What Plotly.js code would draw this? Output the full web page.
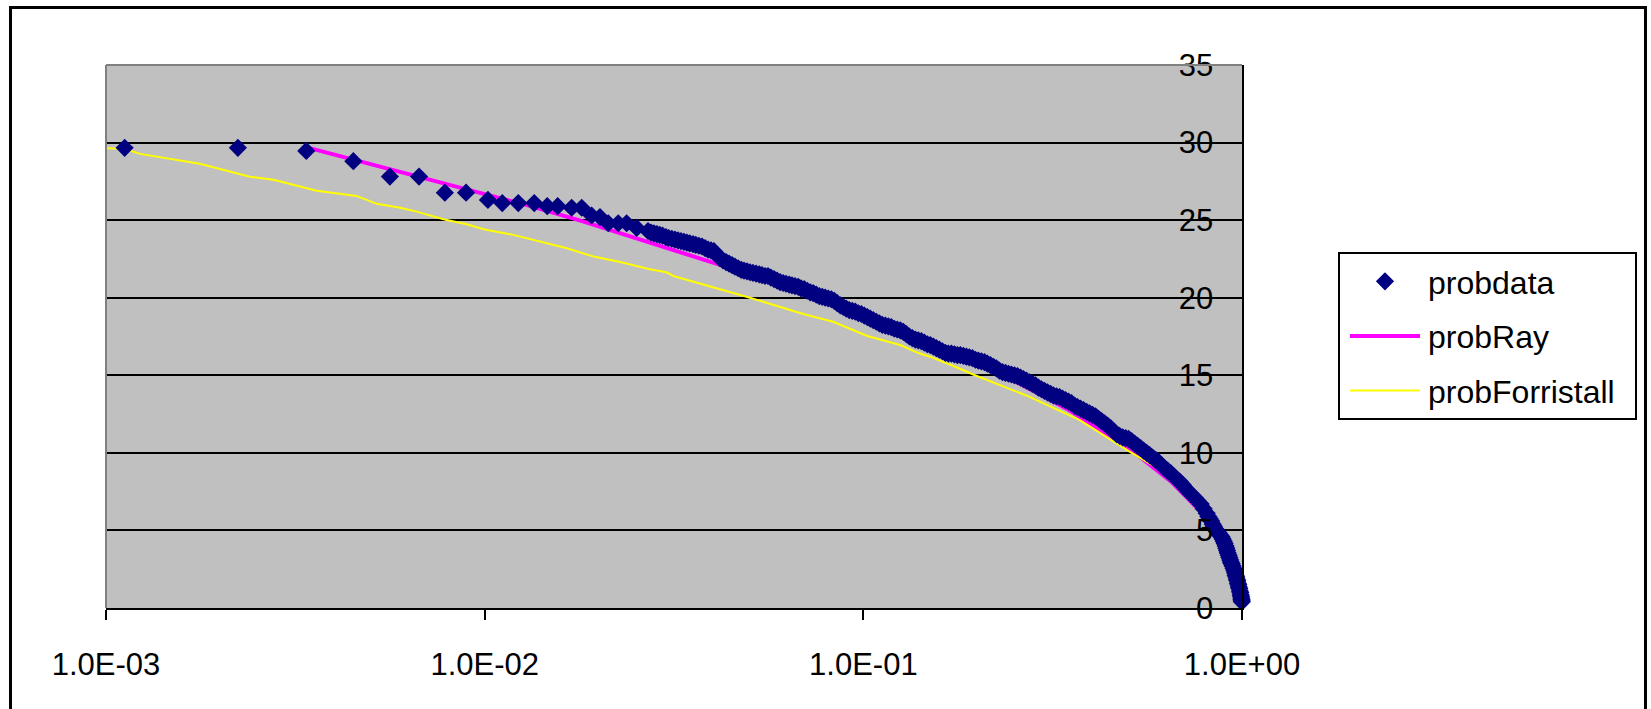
<!DOCTYPE html>
<html>
<head>
<meta charset="utf-8">
<script src="https://cdn.plot.ly/plotly-3.0.1.min.js"></script>
<style>
  html, body { margin: 0; padding: 0; background: #ffffff; overflow: hidden; }
  #wrap { position: relative; width: 1651px; height: 709px; }
  #chart { position: absolute; left: 0; top: 0; width: 1651px; height: 709px; }
  #frame { position: absolute; left: 9px; top: 6px; width: 1632px; height: 760px;
           border: 3px solid #000; pointer-events: none; }
</style>
</head>
<body>
<div id="wrap">
  <div id="chart"></div>
  <div id="frame"></div>
</div>
<script>
// ---- data ----
// probdata: the separate points at the top of the range
const probdataTopX = [0.00112, 0.00223, 0.00338, 0.0045, 0.00562, 0.00671, 0.00785, 0.00893, 0.0102,
  0.01113, 0.01227, 0.01352, 0.01463, 0.01559, 0.01697, 0.01804, 0.01916, 0.02016, 0.0212, 0.02253,
  0.02371, 0.0252];
const probdataTopY = [29.66, 29.66, 29.46, 28.8, 27.81, 27.81, 26.77, 26.77, 26.3,
  26.1, 26.1, 26.1, 25.9, 25.9, 25.8, 25.8, 25.3, 25.2, 24.8, 24.8,
  24.8, 24.5];
// probdata: the dense band
const probdataBandX = [
  0.0270, 0.0280, 0.0290, 0.0301, 0.0312, 0.0324, 0.0336, 0.0348, 0.0361, 0.0375,
  0.0389, 0.0403, 0.0418, 0.0434, 0.0450, 0.0467, 0.0484, 0.0502, 0.0521, 0.0540,
  0.0560, 0.0581, 0.0603, 0.0625, 0.0648, 0.0673, 0.0698, 0.0724, 0.0751, 0.0779,
  0.0808, 0.0838, 0.0869, 0.0901, 0.0935, 0.0970, 0.1006, 0.1043, 0.1082, 0.1122,
  0.1164, 0.1207, 0.1252, 0.1299, 0.1347, 0.1397, 0.1449, 0.1503, 0.1559, 0.1617,
  0.1677, 0.1740, 0.1804, 0.1871, 0.1941, 0.2013, 0.2088, 0.2166, 0.2246, 0.2330,
  0.2417, 0.2507, 0.2600, 0.2697, 0.2797, 0.2901, 0.3009, 0.3121, 0.3237, 0.3357,
  0.3482, 0.3612, 0.3746, 0.3886, 0.4030, 0.4180, 0.4336, 0.4497, 0.4664, 0.4838,
  0.5018, 0.5205, 0.5398, 0.5599, 0.5807, 0.6023, 0.6247, 0.6480, 0.6721, 0.6971,
  0.7230, 0.7499, 0.7778, 0.8068];
const probdataBandY = [
  24.3, 24.15, 24.05, 23.9, 23.8, 23.7, 23.6, 23.5, 23.4, 23.3,
  23.1, 23.0, 22.55, 22.3, 22.1, 21.9, 21.75, 21.64, 21.55, 21.45,
  21.4, 21.2, 21.0, 20.9, 20.8, 20.7, 20.55, 20.35, 20.2, 20.05,
  19.95, 19.8, 19.5, 19.3, 19.15, 19.0, 18.85, 18.65, 18.45, 18.25,
  18.15, 18.0, 17.9, 17.65, 17.4, 17.25, 17.1, 16.95, 16.75, 16.55,
  16.4, 16.35, 16.3, 16.2, 16.1, 15.95, 15.85, 15.65, 15.45, 15.2,
  15.1, 15.0, 14.85, 14.65, 14.45, 14.2, 14.0, 13.8, 13.65, 13.5,
  13.3, 13.05, 12.85, 12.65, 12.45, 12.2, 11.9, 11.6, 11.2, 11.0,
  10.9, 10.6, 10.3, 10.0, 9.7, 9.4, 9.0, 8.7, 8.3, 7.95,
  7.5, 7.1, 6.7, 6.1];
const probdataBand2X = [
  0.0275, 0.0285, 0.0295, 0.0306, 0.0318, 0.0330, 0.0342, 0.0355, 0.0368, 0.0382,
  0.0396, 0.0410, 0.0426, 0.0442, 0.0458, 0.0476, 0.0493, 0.0511, 0.0531, 0.0550,
  0.0570, 0.0592, 0.0614, 0.0637, 0.0660, 0.0685, 0.0711, 0.0737, 0.0765, 0.0793,
  0.0823, 0.0853, 0.0885, 0.0918, 0.0952, 0.0988, 0.1025, 0.1062, 0.1102, 0.1143,
  0.1185, 0.1229, 0.1275, 0.1323, 0.1372, 0.1423, 0.1476, 0.1531, 0.1588, 0.1647,
  0.1708, 0.1772, 0.1837, 0.1905, 0.1977, 0.2050, 0.2126, 0.2206, 0.2287, 0.2373,
  0.2461, 0.2553, 0.2648, 0.2747, 0.2849, 0.2954, 0.3064, 0.3178, 0.3297, 0.3419,
  0.3546, 0.3678, 0.3815, 0.3957, 0.4104, 0.4257, 0.4416, 0.4580, 0.4750, 0.4927,
  0.5110, 0.5301, 0.5497, 0.5702, 0.5914, 0.6134, 0.6362, 0.6600, 0.6845, 0.7100,
  0.7364, 0.7638, 0.7922];
const probdataBand2Y = [
  24.2, 24.1, 24.0, 23.85, 23.75, 23.65, 23.55, 23.45, 23.35, 23.2,
  23.05, 22.8, 22.4, 22.2, 22.0, 21.8, 21.7, 21.6, 21.5, 21.4,
  21.3, 21.1, 20.95, 20.85, 20.75, 20.6, 20.45, 20.3, 20.1, 20.0,
  19.9, 19.65, 19.4, 19.2, 19.1, 18.95, 18.75, 18.55, 18.35, 18.2,
  18.1, 17.95, 17.8, 17.5, 17.3, 17.2, 17.0, 16.85, 16.65, 16.45,
  16.4, 16.3, 16.25, 16.15, 16.0, 15.9, 15.75, 15.55, 15.3, 15.15,
  15.05, 14.95, 14.75, 14.55, 14.35, 14.1, 13.9, 13.7, 13.6, 13.4,
  13.2, 12.95, 12.75, 12.55, 12.35, 12.05, 11.75, 11.4, 11.1, 10.95,
  10.75, 10.45, 10.15, 9.85, 9.55, 9.2, 8.85, 8.5, 8.15, 7.7,
  7.3, 6.9, 6.4];
// probdata: the steep tail near probability 1
const probdataTailX = [0.815, 0.822, 0.829, 0.837, 0.843, 0.850, 0.858, 0.867, 0.875, 0.883,
  0.889, 0.895, 0.900, 0.905, 0.909, 0.913, 0.917, 0.922, 0.926, 0.931, 0.935, 0.939,
  0.944, 0.950, 0.955, 0.959, 0.962, 0.966, 0.969, 0.972, 0.975, 0.978, 0.981, 0.984,
  0.987, 0.990, 0.992, 0.994, 0.996, 0.997, 0.998, 0.999];
const probdataTailY = [5.9, 5.75, 5.6, 5.4, 5.25, 5.1, 4.95, 4.85, 4.7, 4.6,
  4.45, 4.3, 4.15, 4.0, 3.85, 3.7, 3.55, 3.4, 3.25, 3.1, 2.95, 2.85,
  2.7, 2.55, 2.4, 2.25, 2.1, 2.0, 1.85, 1.75, 1.6, 1.5, 1.35, 1.25,
  1.1, 1.0, 0.85, 0.75, 0.65, 0.55, 0.5, 0.4];

const probRayX = [0.00343, 0.0045, 0.0067, 0.009, 0.013, 0.018, 0.0228, 0.0273, 0.0389, 0.055,
  0.08, 0.12, 0.18, 0.25, 0.35, 0.5, 0.65, 0.8, 0.9, 0.97, 0.999];
const probRayY = [29.66, 28.9, 27.85, 27.0, 25.95, 24.95, 24.15, 23.6, 22.4, 21.2,
  19.8, 18.1, 16.3, 14.65, 12.75, 10.35, 8.15, 5.9, 4.05, 2.15, 0.4];

const probForX = [0.0009, 0.00112, 0.00123, 0.00177, 0.0024, 0.00277, 0.0036, 0.00459, 0.00519,
  0.00598, 0.00661, 0.00778, 0.00896, 0.01, 0.0119, 0.0165, 0.0194, 0.0228, 0.0273, 0.0302,
  0.0315, 0.0418, 0.0454, 0.0502, 0.0694, 0.0833, 0.102, 0.125, 0.141, 0.150, 0.173, 0.195,
  0.275, 0.373, 0.506, 0.6, 0.75, 0.9, 0.999];
const probForY = [29.66, 29.6, 29.27, 28.63, 27.8, 27.6, 26.9, 26.56, 26.05,
  25.8, 25.55, 25.06, 24.73, 24.4, 24.05, 23.19, 22.65, 22.3, 21.83, 21.64,
  21.4, 20.55, 20.35, 20.0, 18.95, 18.45, 17.55, 16.95, 16.4, 16.2, 15.6, 15.05,
  13.61, 12.11, 10.06, 9.0, 6.9, 4.1, 0.4];

const xTickVals = [0.001, 0.01, 0.1, 1];
const xTickText = ['1.0E-03', '1.0E-02', '1.0E-01', '1.0E+00'];
const yTickVals = [0, 5, 10, 15, 20, 25, 30, 35];

// ---- chart ----
const FONT = '"Liberation Sans", Arial, sans-serif';
const probdataX = probdataTopX.concat(probdataBandX, probdataBand2X, probdataTailX);
const probdataY = probdataTopY.concat(probdataBandY, probdataBand2Y, probdataTailY);

const traces = [
  { name: 'probRay', x: probRayX, y: probRayY, type: 'scatter', mode: 'lines',
    line: { color: '#FF00FF', width: 4 }, legendrank: 2, legendgroup: 'b' },
  { name: 'probForristall', x: probForX, y: probForY, type: 'scatter', mode: 'lines',
    line: { color: '#FFFF00', width: 2 }, legendrank: 3, legendgroup: 'c' },
  { name: 'probdata', x: probdataX, y: probdataY, type: 'scatter', mode: 'markers',
    marker: { symbol: 'diamond', size: 14, color: '#000080', line: { width: 0 } },
    cliponaxis: false, legendrank: 1, legendgroup: 'a' }
];

const layout = {
  width: 1651, height: 709,
  margin: { l: 106, r: 409, t: 65, b: 101, pad: 0 },
  paper_bgcolor: 'rgba(0,0,0,0)',
  plot_bgcolor: '#C0C0C0',
  font: { family: FONT, size: 31, color: '#000' },
  showlegend: true,
  legend: {
    x: 1.0845, y: 0.6556, xanchor: 'left', yanchor: 'top',
    bgcolor: '#fff', bordercolor: '#000', borderwidth: 2,
    font: { family: FONT, size: 32, color: '#000' },
    itemwidth: 78, tracegroupgap: 10, traceorder: 'grouped'
  },
  xaxis: {
    type: 'log', range: [-3, 0], autorange: false,
    tickmode: 'array', tickvals: xTickVals, ticktext: xTickText,
    ticks: 'outside', ticklen: 10, tickwidth: 2, tickcolor: '#000',
    showgrid: false, zeroline: false,
    showline: true, linecolor: '#000', linewidth: 2,
    tickfont: { family: FONT, size: 31, color: '#000' },
    ticklabelstandoff: 18
  },
  yaxis: {
    side: 'right', range: [0, 35], autorange: false,
    tickmode: 'array', tickvals: yTickVals,
    ticks: 'inside', ticklen: 10, tickwidth: 2, tickcolor: '#000',
    ticklabelposition: 'inside', ticklabeloverflow: 'allow',
    ticklabelstandoff: 22,
    showgrid: true, gridcolor: '#000', gridwidth: 2,
    zeroline: false,
    showline: true, linecolor: '#000', linewidth: 2,
    tickfont: { family: FONT, size: 31, color: '#000' }
  },
  shapes: [
    { type: 'line', xref: 'paper', yref: 'paper', x0: 0, x1: 1, y0: 1, y1: 1,
      line: { color: '#808080', width: 2 }, layer: 'above' },
    { type: 'line', xref: 'paper', yref: 'paper', x0: 0, x1: 0, y0: 0, y1: 1,
      line: { color: '#808080', width: 2 }, layer: 'above' }
  ]
};

Plotly.newPlot('chart', traces, layout, { staticPlot: true, displayModeBar: false }).then(function (gd) {
  // lengthen the legend line samples and widen the legend box to match the reference
  gd.querySelectorAll('.legend .legendlines path').forEach(function (p) {
    p.setAttribute('d', 'M10,0h70');
  });
  gd.querySelectorAll('.legend .legendpoints path.scatterpts').forEach(function (p) {
    p.setAttribute('transform', 'translate(45,0)');
  });
  gd.querySelectorAll('.legend rect.bg').forEach(function (r) {
    r.setAttribute('width', '297');
  });
});
</script>
</body>
</html>
